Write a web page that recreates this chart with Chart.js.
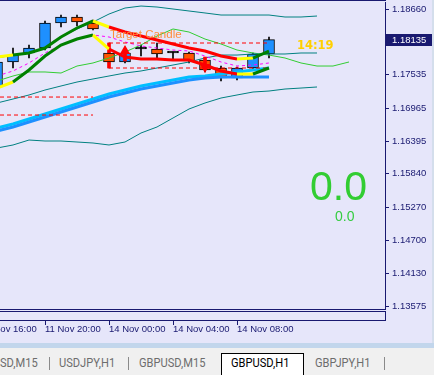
<!DOCTYPE html>
<html>
<head>
<meta charset="utf-8">
<script src="https://cdn.jsdelivr.net/npm/chart.js@4.4.1/dist/chart.umd.min.js"></script>
<style>
  body { margin: 0; width: 434px; height: 375px; overflow: hidden; background: #f0f0f0; }
  #wrap { position: absolute; left: 0; top: 0; width: 432px; height: 343px; overflow: hidden; background: #e6e6fa; }
  #edge { position: absolute; left: 432px; top: 0; width: 2px; height: 343px; background: #d4deec; }
  #chart { position: absolute; left: -24px; top: 0; }
  #strip { position: absolute; left: 0; top: 343px; width: 434px; height: 5px; background: #c2d6ec; }
  #tabs { position: absolute; left: 0; top: 348px; width: 434px; height: 27px; background: #f0f0f0; }
  .tab { position: absolute; top: 8px; line-height: 13px; font-size: 12.5px; font-family: Roboto, sans-serif; color: #6d6d6d; white-space: nowrap; transform: scaleX(0.89); transform-origin: 0 0; }
  .sep { position: absolute; top: 9px; width: 1px; height: 13px; background: #8a8a8a; }
  #active { position: absolute; left: 221px; top: 5px; width: 81px; height: 22px; background: #fff; border: 1px solid #000; border-bottom: none; }
</style>
</head>
<body>
<div id="wrap"><canvas id="chart" width="458" height="343"></canvas></div>
<div id="edge"></div>
<div id="strip"></div>
<div id="tabs">
  <div class="tab" style="left:0px">SD,M15</div>
  <div class="sep" style="left:49px"></div>
  <div class="tab" style="left:59px">USDJPY,H1</div>
  <div class="sep" style="left:128px"></div>
  <div class="tab" style="left:139px">GBPUSD,M15</div>
  <div id="active"></div>
  <div class="tab" style="left:231px; color:#000">GBPUSD,H1</div>
  <div class="tab" style="left:315px">GBPJPY,H1</div>
  <div class="sep" style="left:384px"></div>
</div>
<script>
  // GBPUSD H1 candles, bar 0 is the half hidden one on the left
  const open  = [1.17325, 1.17753, 1.17907, 1.17992, 1.18420, 1.18523, 1.18420, 1.17907, 1.17753, 1.17975, 1.17975, 1.17907, 1.17907, 1.17787, 1.17650, 1.17479, 1.17650, 1.17890];
  const high  = [1.17821, 1.17992, 1.18044, 1.18455, 1.18557, 1.18557, 1.18472, 1.18078, 1.18009, 1.18044, 1.18078, 1.17924, 1.17924, 1.17821, 1.17684, 1.17667, 1.17907, 1.18181];
  const low   = [1.17273, 1.17650, 1.17821, 1.17958, 1.18352, 1.18369, 1.18300, 1.17650, 1.17736, 1.17855, 1.17821, 1.17787, 1.17736, 1.17582, 1.17427, 1.17444, 1.17633, 1.17821];
  const close = [1.17753, 1.17872, 1.17992, 1.18420, 1.18523, 1.18437, 1.18318, 1.17753, 1.17907, 1.17975, 1.17890, 1.17907, 1.17770, 1.17616, 1.17479, 1.17650, 1.17890, 1.18135];

  // indicator buffers, first value is bar -1
  const bbUpper  = [1.17787, 1.17821, 1.17872, 1.17907, 1.17992, 1.18181, 1.18318, 1.18437, 1.18574, 1.18677, 1.18711, 1.18694, 1.18660, 1.18626, 1.18592, 1.18557, 1.18557, 1.18557, 1.18557, 1.18523, 1.18523, 1.18540];
  const bbMiddle = [1.16982, 1.17051, 1.17119, 1.17188, 1.17273, 1.17342, 1.17410, 1.17462, 1.17513, 1.17564, 1.17599, 1.17650, 1.17701, 1.17753, 1.17821, 1.17872, 1.17872, 1.17890, 1.17890, 1.17890, 1.17907, 1.17907];
  const bbLower  = [1.16229, 1.16280, 1.16332, 1.16417, 1.16400, 1.16400, 1.16383, 1.16366, 1.16332, 1.16383, 1.16537, 1.16640, 1.16794, 1.16948, 1.17051, 1.17136, 1.17188, 1.17239, 1.17256, 1.17290, 1.17307, 1.17325];
  const envLine  = [1.17342, 1.17427, 1.17513, 1.17582, 1.17582, 1.17564, 1.17684, 1.17736, 1.17821, 1.17924, 1.18044, 1.18198, 1.18318, 1.18266, 1.18146, 1.18061, 1.17958, 1.17907, 1.17872, 1.17821, 1.17736, 1.17684, 1.17684, 1.17753];
  const maFast   = [1.17787, 1.17838, 1.17872, 1.17907, 1.17992, 1.18181, 1.18335, 1.18455, 1.18352, 1.18266, 1.18198, 1.18129, 1.18061, 1.17992, 1.17941, 1.17855, 1.17804, 1.17821, 1.17941];
  const maSlow   = [1.17239, 1.17307, 1.17410, 1.17616, 1.17855, 1.18044, 1.18146, 1.18215, 1.17975, 1.17838, 1.17804, 1.17804, 1.17787, 1.17787, 1.17701, 1.17599, 1.17547, 1.17547, 1.17650];
  const maTrend  = ['g', 'y', 'g', 'g', 'g', 'g', 'g', 'y', 'r', 'r', 'r', 'r', 'r', 'r', 'r', 'r', 'y', 'g'];
  const maBlue1  = [1.16537, 1.16623, 1.16691, 1.16777, 1.16862, 1.16948, 1.17034, 1.17119, 1.17205, 1.17273, 1.17342, 1.17393, 1.17444, 1.17496, 1.17513, 1.17547, 1.17582, 1.17616, 1.17650];
  const maBlue2  = [1.16486, 1.16571, 1.16640, 1.16725, 1.16811, 1.16897, 1.16982, 1.17068, 1.17153, 1.17222, 1.17290, 1.17342, 1.17393, 1.17444, 1.17479, 1.17496, 1.17496, 1.17496, 1.17496];
  // this one starts at bar 0
  const signalLine = [1.17513, 1.17599, 1.17736, 1.17907, 1.18044, 1.18146, 1.18215, 1.18181, 1.18095, 1.18027, 1.17992, 1.17958, 1.17941, 1.17855, 1.17753, 1.17684, 1.17701, 1.17736];

  const targetBar = 7;
  const prevLevels = [1.17153, 1.16845];
  const arrowBars = [8, 13];
  const arrowHead = [1.17941, 1.17667];
  const arrowTail = [[1.17770, 1.17907], [1.17838, 1.17701]];
  const arrowRot  = [0, 180];

  const timeTicks  = [-1, 3, 7, 11, 15];
  const timeLabels = ['11 Nov 16:00', '11 Nov 20:00', '14 Nov 00:00', '14 Nov 04:00', '14 Nov 08:00'];
  const priceTicks = [1.13575, 1.14130, 1.14700, 1.15270, 1.15840, 1.16395, 1.16965, 1.17535, 1.18105, 1.18660];

  const navy = '#191970';
  const trendCol = { g: '#008000', y: '#ffff00', r: '#ff0000' };
  const lastBar = close.length - 1;

  function pts(arr, start) {
    return arr.map((v, i) => ({ x: start + i, y: v }));
  }

  function line(data, color, width, order, extra) {
    return Object.assign({
      type: 'line', data: data, borderColor: color, borderWidth: width,
      pointRadius: 0, tension: 0, fill: false, order: order
    }, extra || {});
  }

  const decor = {
    id: 'decor',
    afterDraw(chart) {
      const { ctx, chartArea: a, scales: { x, y } } = chart;
      ctx.save();
      // frame top + sub window
      ctx.fillStyle = navy;
      ctx.fillRect(a.left, 0, a.right - a.left + 1, 1);
      ctx.strokeStyle = navy;
      ctx.lineWidth = 1;
      ctx.strokeRect(a.left - 2, a.bottom + 2.5, a.right - a.left + 2.5, 9);
      timeTicks.forEach(t => {
        const px = Math.round(x.getPixelForValue(t)) + 0.5;
        ctx.beginPath();
        ctx.moveTo(px, a.bottom + 11);
        ctx.lineTo(px, a.bottom + 16);
        ctx.stroke();
      });

      // current price label
      const py = Math.round(y.getPixelForValue(close[lastBar]));
      ctx.fillStyle = navy;
      ctx.fillRect(a.right + 1, py - 6, 48, 12);
      ctx.fillStyle = '#ffffff';
      ctx.font = '9.5px "Liberation Sans"';
      ctx.textBaseline = 'middle';
      ctx.fillText(close[lastBar].toFixed(5), a.right + 7, py + 0.5);

      ctx.textBaseline = 'alphabetic';
      // bar timer
      ctx.fillStyle = '#ffd000';
      ctx.font = 'bold 11.5px "DejaVu Sans"';
      ctx.fillText('14:19', x.getPixelForValue(lastBar) + 28, py + 9);

      // target candle label
      ctx.fillStyle = '#ff8c3a';
      ctx.font = '11.5px "Liberation Sans"';
      ctx.fillText('Target Candle', x.getPixelForValue(targetBar) + 1, y.getPixelForValue(high[targetBar]) - 5);

      // spread readout
      ctx.fillStyle = '#32cd32';
      ctx.font = '41px "Liberation Sans"';
      ctx.fillText('0.0', a.right - 75, 200);
      ctx.font = '14px "Liberation Sans"';
      ctx.fillStyle = '#34cc40';
      ctx.fillText('0.0', a.right - 50, 221);
      ctx.restore();
    }
  };

  const datasets = [
    // candles
    {
      type: 'bar', data: open.map((o, i) => ({ x: i, y: [low[i], high[i]] })),
      backgroundColor: '#000000', barThickness: 1, grouped: false, order: 12
    },
    {
      type: 'bar', data: [{ x: targetBar, y: [low[targetBar], high[targetBar]] }],
      backgroundColor: '#ff0000', barThickness: 3, grouped: false, order: 11
    },
    {
      type: 'bar', data: open.map((o, i) => ({ x: i, y: [o, close[i]] })),
      backgroundColor: ctx => {
        const i = ctx.dataIndex;
        if (close[i] > open[i]) return '#1e90ff';
        if (close[i] < open[i]) return '#ff5500';
        return '#000000';
      },
      borderColor: '#000000', borderWidth: 1, borderSkipped: false,
      minBarLength: 2, barThickness: 11, grouped: false, order: 10
    },
    // bands and averages
    line(pts(bbUpper, -1), '#008080', 1, 6),
    line(pts(bbMiddle, -1), '#008080', 1, 6),
    line(pts(bbLower, -1), '#008080', 1, 6),
    line(pts(envLine, -1), '#32cd32', 1, 6),
    line(pts(maBlue2, -1), '#1e90ff', 3, 5),
    line(pts(maBlue1, -1), '#00bfff', 3, 5),
    line(pts(signalLine, 0), '#ff00ff', 1, 4, { borderDash: [3, 3] }),
    // target candle levels
    line([{ x: targetBar, y: high[targetBar] }, { x: lastBar, y: high[targetBar] }], '#ff0000', 1, 3, { borderDash: [4, 3] }),
    line([{ x: targetBar, y: low[targetBar] }, { x: lastBar, y: low[targetBar] }], '#ff0000', 1, 3, { borderDash: [4, 3] }),
    line([{ x: -2, y: prevLevels[0] }, { x: 6, y: prevLevels[0] }], '#ff0000', 1, 3, { borderDash: [4, 3] }),
    line([{ x: -2, y: prevLevels[1] }, { x: 6, y: prevLevels[1] }], '#ff0000', 1, 3, { borderDash: [4, 3] }),
    line(pts(maSlow, -1), '#008000', 3, 1, { segment: { borderColor: c => trendCol[maTrend[c.p0DataIndex]] } }),
    line(pts(maFast, -1), '#008000', 3, 1, { segment: { borderColor: c => trendCol[maTrend[c.p0DataIndex]] } }),
    // signal arrows
    {
      type: 'bar', data: arrowBars.map((b, i) => ({ x: b, y: arrowTail[i] })),
      backgroundColor: '#ff0000', barThickness: 3, grouped: false, order: 0
    },
    {
      type: 'scatter', data: arrowBars.map((b, i) => ({ x: b, y: arrowHead[i] })),
      pointStyle: 'triangle', pointRadius: 6, rotation: arrowRot,
      backgroundColor: '#ff0000', borderColor: '#ff0000', borderWidth: 0, order: 0
    }
  ];

  new Chart(document.getElementById('chart'), {
    type: 'bar',
    data: { datasets: datasets },
    options: {
      responsive: false,
      animation: false,
      events: [],
      layout: { autoPadding: false, padding: { top: 2, left: 0, right: 0, bottom: 0 } },
      plugins: { legend: { display: false }, tooltip: { enabled: false } },
      scales: {
        x: {
          type: 'linear', min: -1.3125, max: 24.25, offset: false,
          grid: { display: false, drawTicks: false },
          border: { display: true, color: navy, width: 1 },
          afterBuildTicks: s => { s.ticks = timeTicks.map(v => ({ value: v })); },
          afterFit: s => { s.height = 34; s.paddingLeft = 0; s.paddingRight = 0; },
          ticks: {
            autoSkip: false, maxRotation: 0, align: 'start', padding: 15,
            color: navy, font: { family: 'Liberation Sans', size: 9.5 },
            callback: (v, i) => timeLabels[i]
          }
        },
        y: {
          position: 'right', min: 1.13524, max: 1.18780,
          grid: { drawOnChartArea: false, drawTicks: true, tickLength: 4, color: navy },
          border: { display: true, color: navy, width: 1 },
          afterBuildTicks: s => { s.ticks = priceTicks.map(v => ({ value: v })); },
          afterFit: s => { s.width = 49; s.paddingTop = 0; s.paddingBottom = 0; },
          ticks: {
            padding: 3, color: navy, font: { family: 'Liberation Sans', size: 9.5 },
            callback: v => v.toFixed(5)
          }
        }
      }
    },
    plugins: [decor]
  });
</script>
</body>
</html>
